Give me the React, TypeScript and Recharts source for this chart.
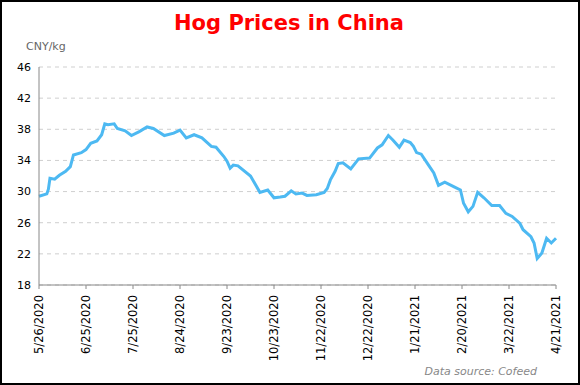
import { CartesianGrid, Line, LineChart, XAxis, YAxis } from 'recharts';

// days since 5/26/2020, price in CNY/kg
const days = [
  0, 5, 6, 7, 10, 13, 17, 20, 22, 27, 30, 33, 37, 40, 42, 44, 48, 50, 55, 59, 64, 69, 73, 80, 86, 90, 94, 99, 104, 110,
  113, 118, 120, 122, 124, 127, 135, 141, 146, 150, 154, 157, 161, 164, 168, 171, 177, 182, 184, 186, 189, 191, 194,
  199, 204, 211, 216, 219, 223, 226, 230, 233, 237, 239, 241, 244, 248, 252, 255, 259, 265, 269, 271, 274, 277, 280,
  284, 289, 294, 298, 302, 307, 309, 314, 316, 318, 321, 324, 327, 330,
];

const prices = [
  29.4, 29.7, 30.3, 31.7, 31.6, 32.1, 32.6, 33.2, 34.7, 35.0, 35.4, 36.2, 36.5, 37.3, 38.7, 38.6, 38.7, 38.1, 37.8, 37.2,
  37.7, 38.3, 38.1, 37.2, 37.5, 37.9, 36.9, 37.3, 36.9, 35.8, 35.7, 34.5, 33.9, 33.0, 33.4, 33.3, 32.0, 29.9, 30.2, 29.2,
  29.3, 29.4, 30.1, 29.7, 29.8, 29.5, 29.6, 29.9, 30.4, 31.5, 32.6, 33.6, 33.7, 32.9, 34.2, 34.3, 35.6, 36.0, 37.2, 36.6,
  35.7, 36.6, 36.3, 35.8, 35.0, 34.8, 33.6, 32.4, 30.8, 31.2, 30.6, 30.2, 28.5, 27.4, 28.1, 29.9, 29.2, 28.2, 28.2, 27.2,
  26.8, 25.9, 25.1, 24.2, 23.4, 21.4, 22.1, 24.0, 23.4, 24.0,
];

const xTicks = [0, 30, 60, 90, 120, 150, 180, 210, 240, 270, 300, 330];
const xTickLabels = [
  '5/26/2020', '6/25/2020', '7/25/2020', '8/24/2020', '9/23/2020', '10/23/2020',
  '11/22/2020', '12/22/2020', '1/21/2021', '2/20/2021', '3/22/2021', '4/21/2021',
];
const yTicks = [18, 22, 26, 30, 34, 38, 42, 46];

const data = days.map((day, i) => ({ day, price: prices[i] }));

const font = '"DejaVu Sans", Verdana, sans-serif';

function DateTick(props: any) {
  const { x, y, payload } = props;
  const label = xTickLabels[xTicks.indexOf(payload.value)];
  return (
    <g transform={`translate(${x},${y + 4})`}>
      <text transform="rotate(-90)" textAnchor="end" dy={4} fontSize={11.5} fill="#000" fontFamily={font}>
        {label}
      </text>
    </g>
  );
}

export default function App() {
  return (
    <div style={{ position: 'relative', width: 580, height: 385, background: '#fff' }}>
      <style>{'body{margin:0}'}</style>
      <LineChart width={580} height={385} data={data} margin={{ top: 67, right: 24, bottom: 30, left: 0 }}>
        <CartesianGrid vertical={false} stroke="#cfcfcf" strokeDasharray="4 4" />
        <XAxis
          dataKey="day"
          type="number"
          domain={[0, 330]}
          ticks={xTicks}
          interval={0}
          height={70}
          axisLine={{ stroke: '#888' }}
          tickLine={{ stroke: '#888' }}
          tickSize={4}
          tick={<DateTick />}
        />
        <YAxis
          domain={[18, 46]}
          ticks={yTicks}
          width={39}
          axisLine={{ stroke: '#888' }}
          tickLine={false}
          tickSize={0}
          tickMargin={8}
          tick={{ fill: '#000', fontSize: 11, fontFamily: font }}
        />
        <Line type="linear" dataKey="price" stroke="#4db9f2" strokeWidth={3} dot={false} isAnimationActive={false} />
      </LineChart>
      <svg width={580} height={385} style={{ position: 'absolute', left: 0, top: 0, pointerEvents: 'none' }}>
        <text x={289} y={30} textAnchor="middle" fontSize={21} fontWeight="bold" fill="#ff0000" fontFamily={font}>
          Hog Prices in China
        </text>
        <text x={26} y={50} fontSize={11} fill="#666" fontFamily={font}>
          CNY/kg
        </text>
        <text x={537} y={375} textAnchor="end" fontSize={11} fontStyle="italic" fill="#888" fontFamily={font}>
          Data source: Cofeed
        </text>
        <rect x={1} y={1} width={578} height={383} fill="none" stroke="#000" strokeWidth={2} />
      </svg>
    </div>
  );
}
